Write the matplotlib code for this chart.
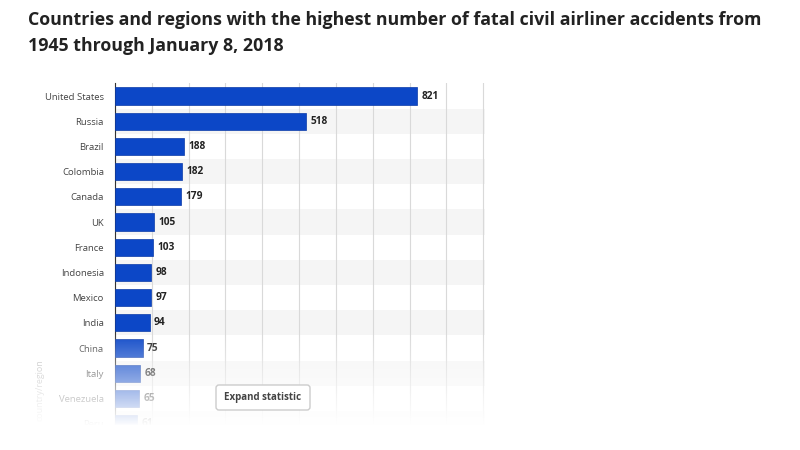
import numpy as np
import matplotlib
matplotlib.use('Agg')
import matplotlib.pyplot as plt
from matplotlib.patches import FancyBboxPatch

plt.rcParams['font.family'] = ['Open Sans', 'DejaVu Sans']

# data
countries = ['United States', 'Russia', 'Brazil', 'Colombia', 'Canada', 'UK', 'France',
             'Indonesia', 'Mexico', 'India', 'China', 'Italy', 'Venezuela', 'Peru']
accidents = [821, 518, 188, 182, 179, 105, 103, 98, 97, 94, 75, 68, 65, 61]
title = ('Countries and regions with the highest number of fatal civil airliner accidents from\n'
         '1945 through January 8, 2018')

W, H = 800, 450
fig = plt.figure(figsize=(8, 4.5), dpi=100)
fig.patch.set_facecolor('white')

# title
fig.text(28 / W, 1 - 11 / H, title, ha='left', va='top', fontsize=12.8,
         fontweight='bold', color='#222222', linespacing=1.6)

# chart area
ax_left, ax_right = 115, 485
row_h = 25.2
top = 96 - row_h / 2
n = len(countries)
ax = fig.add_axes([ax_left / W, 1 - (top + n * row_h) / H,
                   (ax_right - ax_left) / W, n * row_h / H])
y = np.arange(n)
ax.set_xlim(0, 1005)
ax.set_ylim(n - 0.5, -0.5)

for i in y:
    if i % 2 == 1:
        ax.axhspan(i - 0.5, i + 0.5, color='#f5f5f5', zorder=0, lw=0)

ax.set_xticks(np.arange(0, 1001, 100))
ax.xaxis.grid(True, color='#d9d9d9', lw=0.8, zorder=1)
ax.set_axisbelow(True)
ax.tick_params(axis='x', length=0, labelbottom=False)

ax.barh(y, accidents, height=0.68, color='#0c47c7', edgecolor='#0a3aa8', lw=0.5, zorder=3)
for yi, v in zip(y, accidents):
    ax.text(v + 12, yi, str(v), va='center', ha='left', fontsize=7.3,
            fontweight='bold', color='#222222', zorder=4)

ax.set_yticks(y)
ax.set_yticklabels(countries, fontsize=6.8, color='#444444')
ax.tick_params(axis='y', length=0, pad=8)
for s in ['top', 'right', 'bottom']:
    ax.spines[s].set_visible(False)
ax.spines['left'].set_color('#333333')
ax.spines['left'].set_linewidth(0.8)
ax.set_facecolor('none')

fig.text(40 / W, 1 - 390 / H, 'country/region', rotation=90, ha='center', va='center',
         fontsize=6.4, color='#bbbbbb')

# white fade overlay at the bottom
ov = fig.add_axes([0, 0, 1, 1], zorder=5)
ov.set_xlim(0, W)
ov.set_ylim(H, 0)
ov.axis('off')
rows = np.arange(H)
alpha = np.clip((rows - 330) / 95.0, 0, 1)
grad = np.ones((H, 1, 4))
grad[:, 0, 3] = alpha
ov.imshow(grad, extent=(0, W, H, 0), aspect='auto', zorder=1, interpolation='bilinear')

# expand button
btn = FancyBboxPatch((216, 385), 94, 25, boxstyle='round,pad=0,rounding_size=3',
                     fc='white', ec='#cccccc', lw=1, zorder=3)
ov.add_patch(btn)
ov.text(263, 397.5, 'Expand statistic', ha='center', va='center', fontsize=7.0,
        fontweight='bold', color='#444444', zorder=4)

fig.savefig('out.png', dpi=100, facecolor='white')
